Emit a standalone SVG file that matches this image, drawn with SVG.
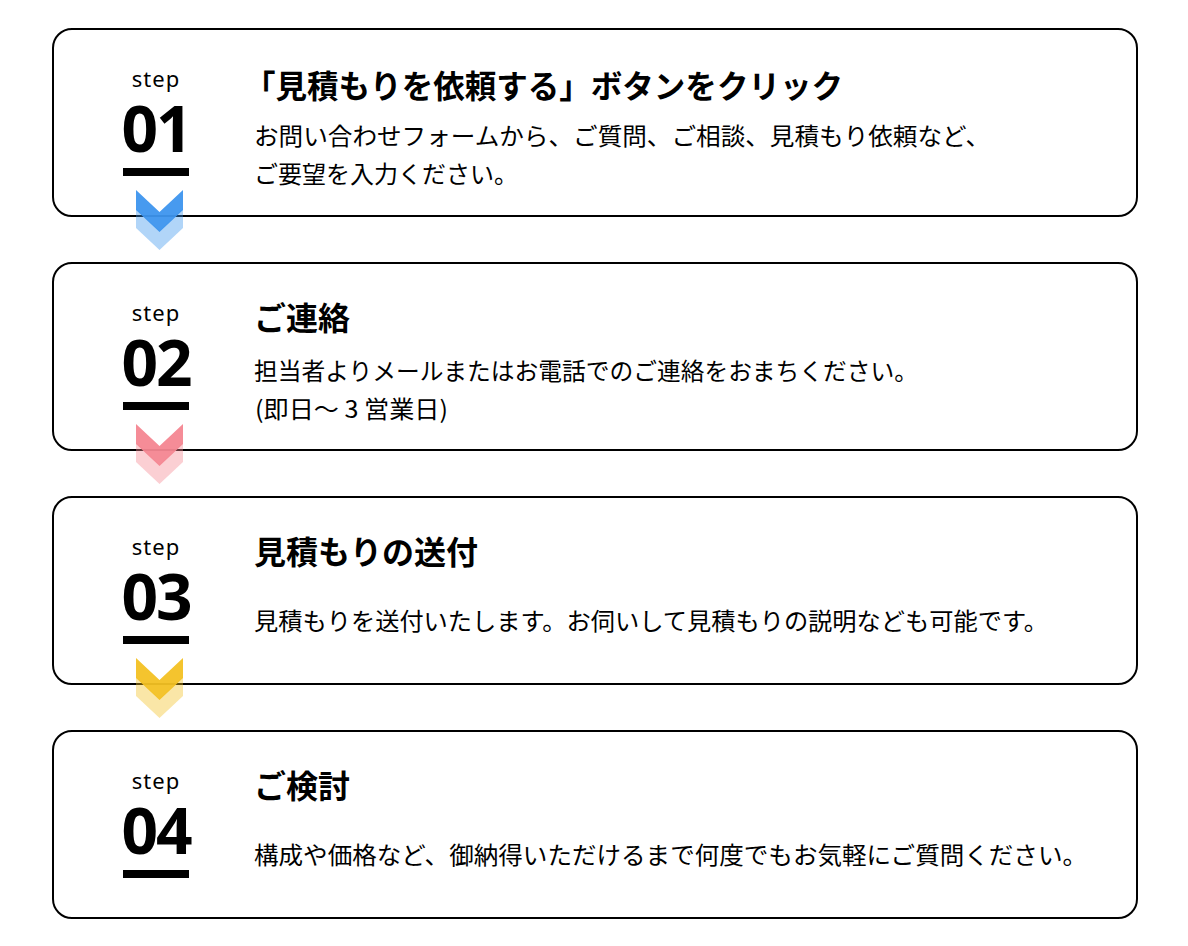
<svg xmlns="http://www.w3.org/2000/svg" width="1188" height="946" viewBox="0 0 1188 946">
<style>
.box{fill:#fff;stroke:#000;stroke-width:2}
.step{font-family:"Noto Sans","Open Sans",sans-serif;font-size:22px;fill:#000;text-anchor:middle;letter-spacing:1px}
.num{font-family:"Noto Sans","Open Sans",sans-serif;font-size:64px;font-weight:700;fill:#000;text-anchor:middle;letter-spacing:-2px}
.bar{fill:#000}
.title{font-family:"Noto Sans CJK JP","Noto Sans",sans-serif;font-size:32px;font-weight:700;fill:#000}
.body{font-family:"Noto Sans CJK JP","Noto Sans",sans-serif;font-size:24px;fill:#000}
</style>
<defs>
<path id="chev" d="M0,0 L23.5,22 L47,0 L47,20 L23.5,42 L0,20 Z"/>
</defs>
<g id="step1">
<rect class="box" x="53" y="29" width="1084" height="187" rx="19"/>
<text class="step" x="156" y="87">step</text>
<text class="num" x="156" y="152">01</text>
<rect class="bar" x="123" y="168" width="66" height="8"/>
<text class="title" x="244" y="98" textLength="599" lengthAdjust="spacingAndGlyphs">「見積もりを依頼する」ボタンをクリック</text>
<text class="body" x="254" y="145" textLength="736" lengthAdjust="spacingAndGlyphs">お問い合わせフォームから、ご質問、ご相談、見積もり依頼など、</text>
<text class="body" x="254" y="183">ご要望を入力ください。</text>
</g>
<g id="step2">
<rect class="box" x="53" y="263" width="1084" height="187" rx="19"/>
<text class="step" x="156" y="321">step</text>
<text class="num" x="156" y="386">02</text>
<rect class="bar" x="123" y="402" width="66" height="8"/>
<text class="title" x="254" y="330">ご連絡</text>
<text class="body" x="254" y="380" textLength="664" lengthAdjust="spacingAndGlyphs">担当者よりメールまたはお電話でのご連絡をおまちください。</text>
<text class="body" x="255" y="418" textLength="193" lengthAdjust="spacingAndGlyphs">(即日～ 3 営業日)</text>
</g>
<g id="step3">
<rect class="box" x="53" y="497" width="1084" height="187" rx="19"/>
<text class="step" x="156" y="555">step</text>
<text class="num" x="156" y="620">03</text>
<rect class="bar" x="123" y="636" width="66" height="8"/>
<text class="title" x="254" y="564">見積もりの送付</text>
<text class="body" x="254" y="630" textLength="794" lengthAdjust="spacingAndGlyphs">見積もりを送付いたします。お伺いして見積もりの説明なども可能です。</text>
</g>
<g id="step4">
<rect class="box" x="53" y="731" width="1084" height="187" rx="19"/>
<text class="step" x="156" y="789">step</text>
<text class="num" x="156" y="854">04</text>
<rect class="bar" x="123" y="870" width="66" height="8"/>
<text class="title" x="254" y="798">ご検討</text>
<text class="body" x="254" y="864" textLength="833" lengthAdjust="spacingAndGlyphs">構成や価格など、御納得いただけるまで何度でもお気軽にご質問ください。</text>
</g>
<g id="connectors">
<use href="#chev" x="136" y="208" fill="#3d95ee" fill-opacity="0.4"/>
<use href="#chev" x="136" y="190" fill="#3d95ee" fill-opacity="0.95"/>
<use href="#chev" x="136" y="442" fill="#f48691" fill-opacity="0.4"/>
<use href="#chev" x="136" y="424" fill="#f48691" fill-opacity="0.95"/>
<use href="#chev" x="136" y="676" fill="#f3c123" fill-opacity="0.4"/>
<use href="#chev" x="136" y="658" fill="#f3c123" fill-opacity="0.95"/>
</g>
</svg>
